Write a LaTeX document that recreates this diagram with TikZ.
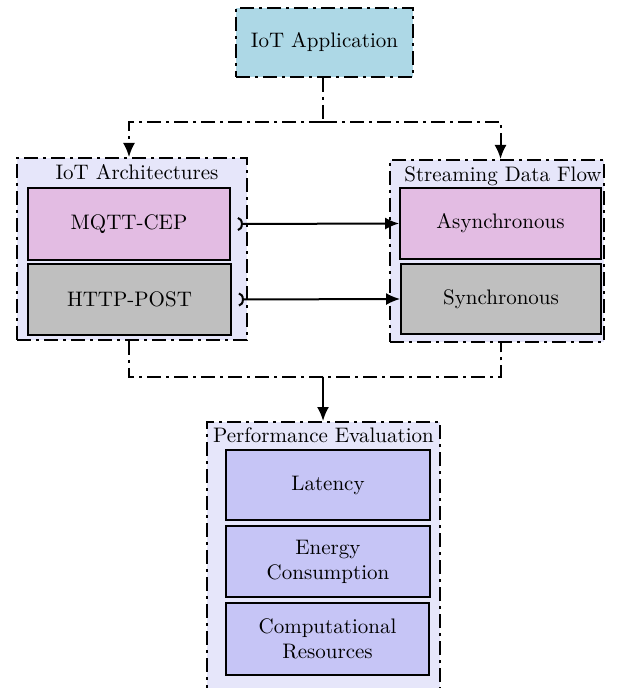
\documentclass[tikz,border=0pt]{standalone}
\usetikzlibrary{arrows.meta,calc}
\definecolor{appblue}{RGB}{173,216,230}
\definecolor{contfill}{RGB}{230,230,250}
\definecolor{pinkbox}{RGB}{227,188,227}
\definecolor{graybox}{RGB}{191,191,191}
\definecolor{perfbox}{RGB}{198,197,246}
\tikzset{
  dd/.style={line width=1pt, dash pattern=on 7pt off 2.5pt on 1.5pt off 2.5pt},
  container/.style={dd, draw=black, fill=contfill, inner sep=0pt},
  inbox/.style={draw=black, line width=0.9pt, inner sep=2pt, align=center, font=\fontsize{10.5}{12.5}\selectfont},
  ttl/.style={anchor=north, inner sep=0pt, font=\fontsize{10.5}{12.5}\selectfont},
  conn/.style={line width=1pt},
  tip/.style={-{Latex[length=7pt,width=6pt]}},
  hooktip/.style={{Arc Barb[reversed,length=2.5pt,width=7pt]}-{Latex[length=7pt,width=6pt]}},
}
\begin{document}
\begin{tikzpicture}[x=0.5pt,y=-0.5pt]
\useasboundingbox (0,0) rectangle (619,688);
% top application
\node[container, fill=appblue, minimum width=88.5pt, minimum height=34.5pt, font=\fontsize{10.5}{12.5}\selectfont] (app) at (324.5,42.5) {IoT Application};
% containers
\node[container, minimum width=115pt, minimum height=91pt] (leftc) at (132,249) {};
\node[container, minimum width=107pt, minimum height=91pt] (rightc) at (497,251) {};
\node[container, minimum width=116.5pt, minimum height=135pt] (perfc) at (323.5,557) {};
% titles
\node[ttl] (lt) at ([xshift=2.5pt,yshift=-3.5pt]leftc.north) {IoT Architectures};
\node[ttl] (rt) at ([xshift=3pt,yshift=-3.5pt]rightc.north) {Streaming Data Flow};
\node[ttl] (pt) at ([yshift=-3pt]perfc.north) {Performance Evaluation};
% inner boxes
\node[inbox, fill=pinkbox, minimum width=101pt, minimum height=36pt] (mqtt) at (129,224) {MQTT-CEP};
\node[inbox, fill=graybox, minimum width=101.5pt, minimum height=35.5pt] (http) at (129.5,299.5) {HTTP-POST};
\node[inbox, fill=pinkbox, minimum width=100.5pt, minimum height=35.5pt] (async) at (500.5,223.5) {Asynchronous};
\node[inbox, fill=graybox, minimum width=100pt, minimum height=35pt] (sync) at (501,299) {Synchronous};
\node[inbox, fill=perfbox, minimum width=102pt, minimum height=35pt] (lat) at (328,485) {Latency};
\node[inbox, fill=perfbox, minimum width=102pt, minimum height=35.5pt] (energy) at (328,561.5) {Energy\\Consumption};
\node[inbox, fill=perfbox, minimum width=101.5pt, minimum height=36pt] (comp) at (327.5,639) {Computational\\Resources};
% top connectors
\coordinate (split) at (323,122);
\draw[dd] (app.south -| split) -- (split);
\draw[dd, tip] (split) -| (leftc.north -| mqtt);
\draw[dd, tip] (split) -| (rightc.north -| async);
% horizontal arrows
\draw[conn, hooktip] ([xshift=3.5pt]mqtt.east) -- (async.west);
\draw[conn, hooktip] ([xshift=3.5pt]http.east) -- (sync.west);
% bottom connectors
\coordinate (join) at (323,377);
\draw[dd] (leftc.south -| mqtt) |- (join) -| (rightc.south -| async);
\draw[conn, tip] (join) -- (perfc.north -| join);
\end{tikzpicture}
\end{document}
